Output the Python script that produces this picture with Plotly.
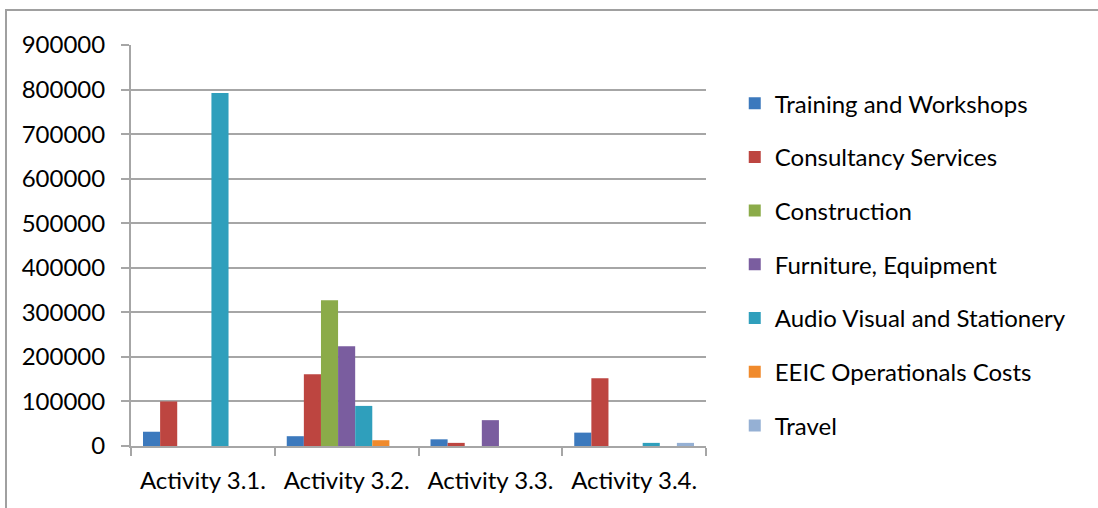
import plotly.graph_objects as go

categories = ["Activity 3.1.", "Activity 3.2.", "Activity 3.3.", "Activity 3.4."]

training = [32000, 22000, 15000, 30000]
consultancy = [100000, 161000, 7000, 152000]
construction = [0, 327000, 0, 0]
furniture = [0, 224000, 58000, 0]
audio_visual = [792000, 90000, 0, 7000]
eeic_costs = [0, 13000, 0, 0]
travel = [0, 0, 0, 7000]

series = [
    ("Training and Workshops", training, "#3c79bd"),
    ("Consultancy Services", consultancy, "#bd4540"),
    ("Construction", construction, "#8bab49"),
    ("Furniture, Equipment", furniture, "#7a5d9f"),
    ("Audio Visual and Stationery", audio_visual, "#2f9fbc"),
    ("EEIC Operationals Costs", eeic_costs, "#f08a2c"),
    ("Travel", travel, "#95b0d4"),
]

FONT = "Lato"
FS = 24
GRID = "#a6a6a6"

fig = go.Figure()
for i, (name, vals, color) in enumerate(series):
    fig.add_trace(go.Bar(
        x=categories, y=vals, name=name, legendgroup=f"g{i}",
        marker=dict(color=color, line=dict(width=0)),
    ))

fig.update_layout(
    width=1098, height=508,
    margin=dict(l=131, r=392, t=45, b=62, autoexpand=False),
    paper_bgcolor="white", plot_bgcolor="white",
    barmode="group", bargap=0.167, bargroupgap=0,
    font=dict(family=FONT, size=FS, color="black"),
    showlegend=True,
    legend=dict(
        x=1.05, xanchor="left", y=0.91, yanchor="top",
        traceorder="grouped", tracegroupgap=19.5,
        font=dict(family=FONT, size=FS, color="black"),
        bgcolor="rgba(0,0,0,0)",
    ),
    xaxis=dict(
        showline=True, linecolor=GRID, linewidth=2,
        ticks="outside", tickson="boundaries", ticklen=8, tickcolor=GRID, tickwidth=2,
        showgrid=False, tickfont=dict(family=FONT, size=FS), ticklabelstandoff=12,
    ),
    yaxis=dict(
        range=[0, 900000], dtick=100000, tickformat="d",
        showline=True, linecolor=GRID, linewidth=2,
        ticks="outside", ticklen=8, tickcolor=GRID, tickwidth=2,
        showgrid=True, gridcolor=GRID, gridwidth=2,
        zeroline=False, ticklabelstandoff=11,
        tickfont=dict(family=FONT, size=FS),
    ),
    shapes=[dict(
        type="rect", xref="paper", yref="paper",
        x0=(6 - 131) / 575, x1=(1110 - 131) / 575,
        y0=(446 - 520) / 401, y1=(446 - 10) / 401,
        line=dict(color="#a0a0a0", width=2), fillcolor="rgba(0,0,0,0)", layer="below",
    )],
)

fig.write_html("out.html")
